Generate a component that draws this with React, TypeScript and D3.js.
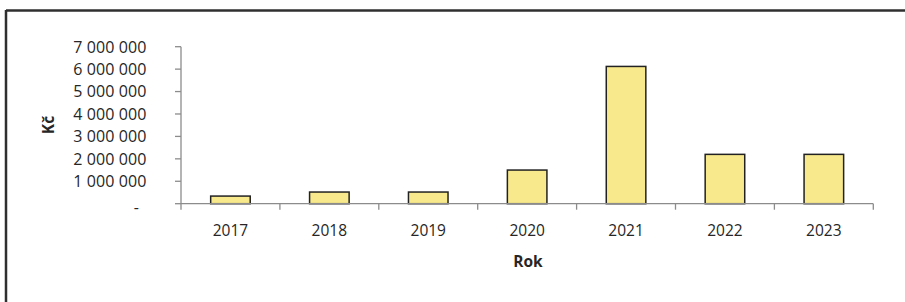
import React from "react";
import * as d3 from "d3";

// roky a hodnoty (Kč)
const years = ["2017", "2018", "2019", "2020", "2021", "2022", "2023"];
const values = [340000, 520000, 520000, 1500000, 6120000, 2200000, 2200000];
const yTicks = [0, 1000000, 2000000, 3000000, 4000000, 5000000, 6000000, 7000000];

const W = 905;
const H = 302;
const FONT = "'Open Sans', 'Noto Sans', sans-serif";

const fmt = (v: number) =>
    v === 0 ? "-" : d3.format(",")(v).replace(/,/g, " ");

const App = () => {
    const x = d3.scaleBand<string>()
        .domain(years)
        .range([181, 873.3])
        .paddingInner(0.6)
        .paddingOuter(0.3);

    const xStep = d3.scaleBand<string>().domain(years).range([181, 873.3]);

    const y = d3.scaleLinear()
        .domain([0, 7000000])
        .range([203.7, 46.7]);

    return (
        <svg
            width={W}
            height={H}
            style={{ position: "absolute", left: 0, top: 0, background: "#fff" }}
            fontFamily={FONT}
        >
            {/* rámeček */}
            <line x1={6} y1={10.5} x2={W} y2={10.5} stroke="#2f2f2f" strokeWidth={2.5} />
            <line x1={6} y1={10} x2={6} y2={H} stroke="#2f2f2f" strokeWidth={2.5} />

            {/* osa y */}
            <line x1={181} y1={y(7000000)} x2={181} y2={y(0)} stroke="#8c8c8c" strokeWidth={1.3} />
            {yTicks.map(t => (
                <g key={t}>
                    <line x1={175} x2={181} y1={y(t)} y2={y(t)} stroke="#8c8c8c" strokeWidth={1.3} />
                    <text
                        x={t === 0 ? 139 : 146.5}
                        y={y(t) + (t === 0 ? 9 : 5.8)}
                        textAnchor="end"
                        fontSize={16}
                        letterSpacing={0.1}
                        fill="#262626"
                    >
                        {fmt(t)}
                    </text>
                </g>
            ))}

            {/* sloupce */}
            {years.map((yr, i) => (
                <rect
                    key={yr}
                    x={x(yr)}
                    y={y(values[i])}
                    width={x.bandwidth()}
                    height={y(0) - y(values[i])}
                    fill="#f8e98c"
                    stroke="#222"
                    strokeWidth={1.5}
                />
            ))}

            {/* osa x */}
            <line x1={181} x2={873.3} y1={y(0)} y2={y(0)} stroke="#8c8c8c" strokeWidth={1.3} />
            {[...years.map(yr => xStep(yr) as number), 873.3].map((px, i) => (
                <line key={i} x1={px} x2={px} y1={y(0)} y2={y(0) + 6} stroke="#8c8c8c" strokeWidth={1.3} />
            ))}
            {years.map(yr => (
                <text
                    key={yr}
                    x={(xStep(yr) as number) + xStep.bandwidth() / 2}
                    y={236}
                    textAnchor="middle"
                    fontSize={15.5}
                    fill="#262626"
                >
                    {yr}
                </text>
            ))}

            {/* popisky os */}
            <text x={528} y={267} textAnchor="middle" fontSize={15.5} fontWeight="bold" fill="#262626">
                Rok
            </text>
            <text
                transform="translate(54,125) rotate(-90)"
                textAnchor="middle"
                fontSize={15.5}
                fontWeight="bold"
                fill="#262626"
            >
                Kč
            </text>
        </svg>
    );
};

export default App;
